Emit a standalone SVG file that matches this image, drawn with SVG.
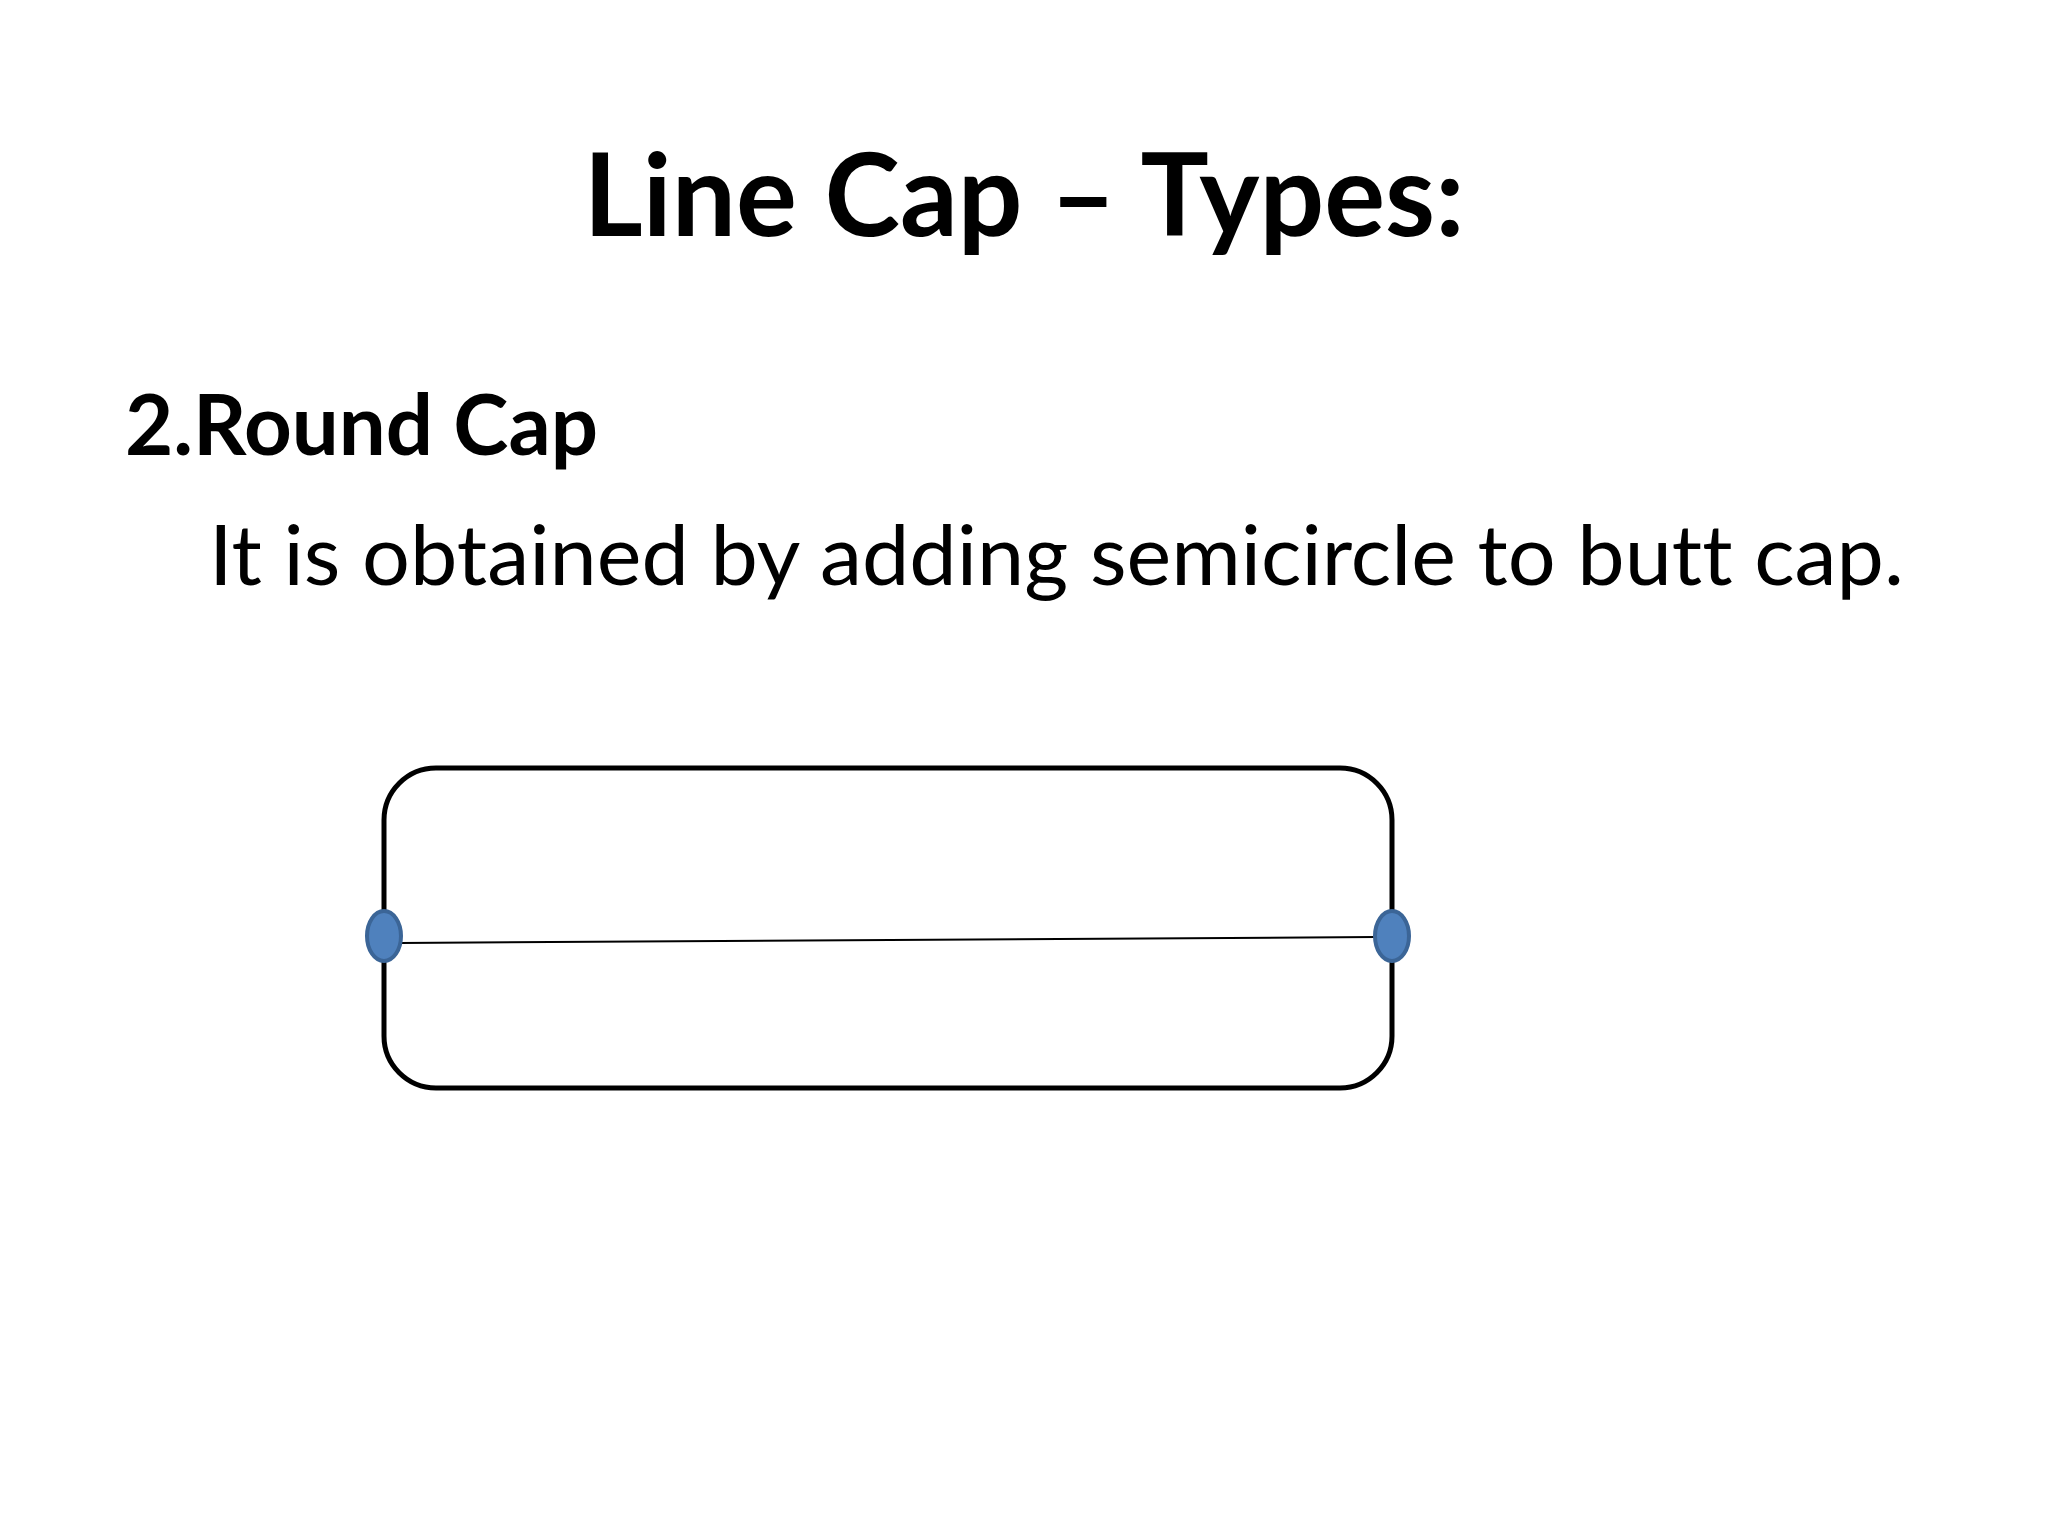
<svg xmlns="http://www.w3.org/2000/svg" width="2048" height="1536" viewBox="0 0 2048 1536">
<style>
.t{font-family:Lato,"Open Sans","Liberation Sans",sans-serif;fill:#000;font-variant-ligatures:none;font-feature-settings:"liga" 0,"clig" 0}
.b{font-weight:bold}
.dot{fill:#4F81BD;stroke:#3B6597;stroke-width:4}
</style>
<rect width="2048" height="1536" fill="#fff"/>
<text class="t b" x="1024" y="236" font-size="114" text-anchor="middle" textLength="881" lengthAdjust="spacingAndGlyphs">Line Cap – Types:</text>
<text class="t b" x="125" y="455" font-size="84" textLength="473" lengthAdjust="spacingAndGlyphs">2.Round Cap</text>
<text class="t" x="209" y="585" font-size="84" textLength="1695" lengthAdjust="spacingAndGlyphs">It is obtained by adding semicircle to butt cap.</text>
<g id="shape">
<rect x="384" y="768" width="1008" height="320" rx="52" ry="52" fill="none" stroke="#000" stroke-width="5"/>
</g>
<g id="connectors">
<line x1="400" y1="943" x2="1376" y2="937" stroke="#000" stroke-width="2"/>
</g>
<g id="leftEnd"><ellipse class="dot" cx="384" cy="936" rx="17" ry="25"/></g>
<g id="rightEnd"><ellipse class="dot" cx="1392" cy="936" rx="17" ry="25"/></g>
</svg>
